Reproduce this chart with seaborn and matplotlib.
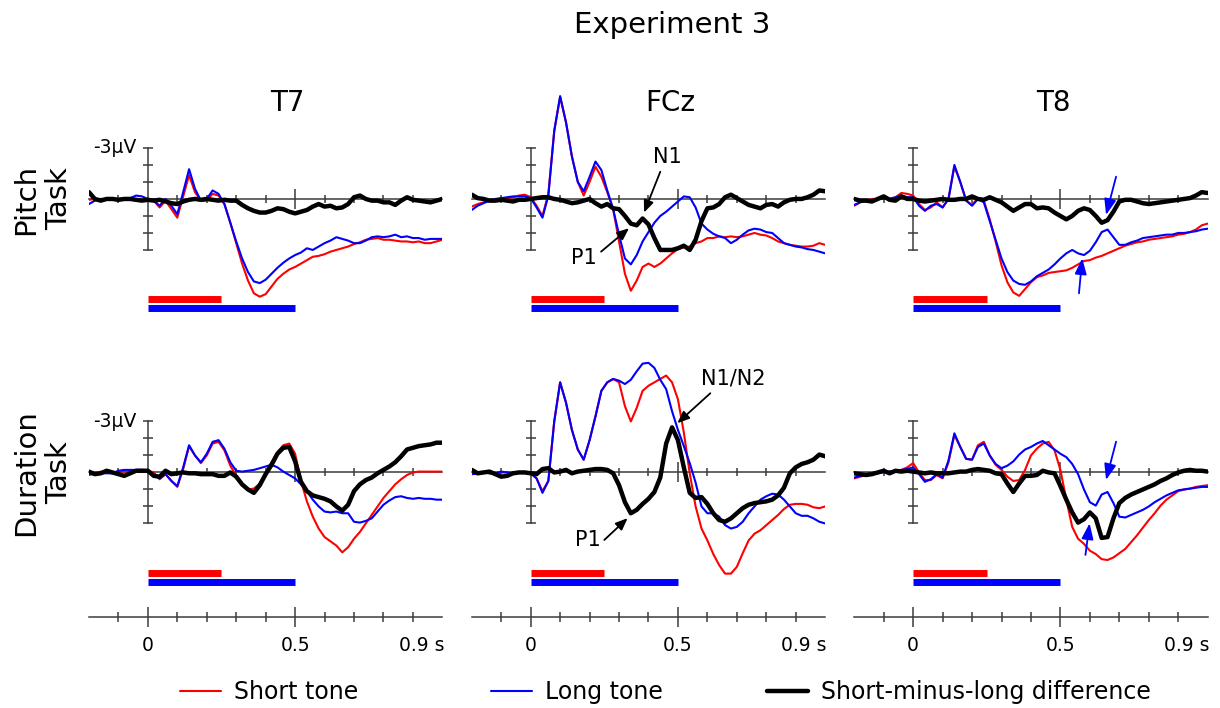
import numpy as np
import matplotlib
matplotlib.use("Agg")
import matplotlib.pyplot as plt
from matplotlib.transforms import blended_transform_factory
from matplotlib.lines import Line2D
import seaborn as sns

sns.set_theme(style="white")
plt.rcParams['font.family'] = ['DejaVu Sans']
plt.rcParams['text.color'] = 'black'

# sample times in seconds, one every 20 ms
t = np.linspace(-0.2, 1.0, 61)

# ERP amplitudes in microvolts (negative is drawn upwards)
# --- pitch task ---
t7_pitch_short = [0.05, 0.0, 0.0, 0.0, 0.0, 0.0, 0.0, 0.0, 0.0, 0.05,
                  0.05, 0.1, 0.5, 0.1, 0.6, 1.1, -0.15, -1.4, -0.4, 0.1, 0.1, -0.3, -0.2, 0.3, 1.4, 2.6, 3.8,
                  4.8, 5.55, 5.75, 5.6, 5.15, 4.7, 4.4, 4.15, 4.0, 3.8, 3.6, 3.4, 3.35, 3.25, 3.1, 3.0, 2.9,
                  2.8, 2.65, 2.55, 2.4, 2.35, 2.3, 2.4, 2.4, 2.45, 2.5, 2.5, 2.55, 2.5, 2.6, 2.6, 2.5, 2.4]
t7_pitch_long = [0.3, 0.1, 0.0, 0.0, 0.0, 0.0, 0.0, -0.05, -0.2, -0.15,
                 0.0, 0.1, 0.4, 0.0, 0.4, 0.9, -0.4, -1.75, -0.6, 0.1, 0.0, -0.5, -0.3, 0.3, 1.4, 2.5, 3.5,
                 4.3, 4.85, 4.95, 4.75, 4.4, 4.05, 3.75, 3.5, 3.3, 3.15, 2.9, 3.0, 2.8, 2.6, 2.45, 2.25, 2.35,
                 2.45, 2.6, 2.6, 2.45, 2.25, 2.2, 2.25, 2.2, 2.1, 2.25, 2.2, 2.3, 2.3, 2.4, 2.35, 2.35, 2.35]
t7_pitch_diff = [-0.4, 0.0, 0.1, 0.0, 0.0, 0.05, 0.0, 0.0, 0.05, 0.1,
                 0.05, 0.1, 0.05, 0.15, 0.25, 0.3, 0.15, 0.05, 0.0, 0.05, 0.0, 0.05, 0.1, 0.05, 0.1, 0.1, 0.35,
                 0.55, 0.7, 0.8, 0.8, 0.7, 0.55, 0.6, 0.75, 0.85, 0.75, 0.65, 0.45, 0.3, 0.45, 0.4, 0.55, 0.5,
                 0.3, -0.1, -0.2, 0.0, 0.1, 0.1, 0.2, 0.2, 0.35, 0.1, -0.1, 0.05, 0.1, 0.15, 0.2, 0.1, 0.0]

fcz_pitch_short = [0.45, 0.3, 0.2, 0.1, 0.05, 0.0, -0.05, -0.1, -0.2, -0.25,
                   -0.1, 0.4, 1.0, -0.3, -4.0, -6.0, -4.5, -2.5, -1.0, -0.2, -1.0, -1.9, -1.3, -0.4, 0.6, 2.5, 4.4,
                   5.4, 4.8, 4.0, 3.8, 4.0, 3.8, 3.5, 3.2, 2.95, 2.85, 2.8, 2.6, 2.5, 2.3, 2.3, 2.2, 2.25,
                   2.2, 2.25, 2.2, 2.1, 2.0, 2.1, 2.15, 2.3, 2.5, 2.6, 2.7, 2.75, 2.8, 2.8, 2.75, 2.6, 2.7]
fcz_pitch_long = [0.65, 0.4, 0.25, 0.1, 0.0, -0.05, -0.1, -0.15, -0.15, -0.15,
                  -0.05, 0.5, 1.1, -0.2, -4.0, -6.05, -4.5, -2.5, -1.0, -0.45, -1.3, -2.2, -1.7, -0.5, 0.6, 2.1, 3.5,
                  3.85, 3.3, 2.5, 1.95, 1.4, 1.0, 0.75, 0.45, 0.15, -0.15, -0.1, 0.5, 1.45, 1.8, 2.05, 2.2, 2.3,
                  2.6, 2.4, 2.1, 1.85, 1.75, 1.8, 1.95, 2.0, 2.3, 2.6, 2.7, 2.8, 2.85, 2.95, 3.0, 3.1, 3.2]
fcz_pitch_diff = [-0.25, -0.05, 0.0, 0.1, 0.1, 0.05, 0.1, 0.15, 0.05, 0.05,
                  0.0, -0.05, -0.1, -0.1, 0.0, 0.05, 0.15, 0.25, 0.2, 0.1, 0.0, 0.25, 0.45, 0.3, 0.55, 0.6, 1.0,
                  1.45, 1.55, 1.15, 1.5, 2.3, 3.0, 3.0, 3.0, 2.9, 2.75, 3.0, 2.4, 1.3, 0.55, 0.5, 0.3, -0.1,
                  -0.25, -0.05, 0.15, 0.35, 0.45, 0.55, 0.35, 0.3, 0.45, 0.2, 0.05, 0.0, 0.0, -0.1, -0.25, -0.5, -0.45]

t8_pitch_short = [0.4, 0.2, 0.1, 0.0, 0.0, 0.0, 0.0, -0.1, -0.35, -0.3,
                  -0.2, 0.3, 0.65, 0.5, 0.2, 0.5, 0.0, -1.9, -1.0, 0.1, 0.35, -0.05, 0.1, 1.2, 2.5, 3.9, 4.9,
                  5.5, 5.7, 5.3, 4.9, 4.6, 4.5, 4.35, 4.3, 4.25, 4.2, 4.05, 3.85, 3.65, 3.6, 3.45, 3.35, 3.2,
                  3.05, 2.9, 2.75, 2.65, 2.55, 2.5, 2.4, 2.35, 2.3, 2.25, 2.2, 2.1, 2.05, 1.95, 1.8, 1.55, 1.45]
t8_pitch_long = [0.35, 0.2, 0.1, 0.05, 0.0, 0.0, 0.0, -0.1, -0.2, -0.1,
                 -0.1, 0.4, 0.7, 0.4, 0.3, 0.5, 0.0, -2.0, -1.0, 0.1, 0.4, 0.0, 0.2, 1.3, 2.4, 3.5, 4.3,
                 4.8, 5.0, 5.05, 4.85, 4.55, 4.35, 4.15, 3.85, 3.5, 3.2, 3.0, 3.2, 3.3, 3.05, 2.55, 1.95, 1.8,
                 2.25, 2.7, 2.7, 2.55, 2.45, 2.3, 2.25, 2.2, 2.15, 2.1, 2.1, 2.0, 2.0, 1.95, 1.9, 1.8, 1.75]
t8_pitch_diff = [0.0, 0.1, 0.1, 0.15, 0.0, -0.15, 0.05, 0.1, -0.15, 0.0,
                 0.0, 0.1, 0.15, 0.1, 0.05, 0.0, 0.05, 0.05, 0.0, 0.0, -0.15, 0.0, 0.05, -0.1, 0.05, 0.2, 0.45,
                 0.7, 0.5, 0.3, 0.3, 0.55, 0.5, 0.55, 0.8, 1.0, 1.2, 1.0, 0.7, 0.55, 0.65, 1.0, 1.4, 1.25,
                 0.75, 0.15, 0.05, 0.05, 0.15, 0.25, 0.3, 0.25, 0.2, 0.15, 0.1, 0.05, 0.0, -0.05, -0.2, -0.4, -0.35]

# --- duration task ---
t7_dur_short = [0.15, 0.05, -0.05, 0.0, 0.0, -0.05, -0.05, -0.1, -0.1, -0.15,
                -0.1, 0.0, 0.4, 0.1, 0.5, 0.85, -0.2, -1.55, -1.0, -0.55, -1.0, -1.7, -1.8, -1.3, -0.4, 0.2, 0.7,
                1.0, 0.95, 0.65, 0.0, -0.6, -1.2, -1.6, -1.7, -1.1, 0.5, 1.7, 2.6, 3.3, 3.8, 4.05, 4.3, 4.7,
                4.4, 3.9, 3.5, 3.0, 2.5, 2.0, 1.5, 1.1, 0.7, 0.4, 0.15, 0.0, -0.05, -0.05, -0.05, -0.05, -0.05]
t7_dur_long = [0.1, 0.1, 0.05, 0.05, 0.05, -0.1, -0.15, -0.15, -0.15, -0.15,
               -0.1, 0.15, 0.35, 0.1, 0.5, 0.8, -0.3, -1.6, -1.0, -0.6, -1.1, -1.8, -1.9, -1.4, -0.6, -0.1, -0.05,
               -0.1, -0.15, -0.25, -0.35, -0.45, -0.3, -0.05, 0.15, 0.35, 0.7, 1.1, 1.6, 2.0, 2.3, 2.35, 2.3, 2.4,
               2.4, 2.9, 2.95, 2.85, 2.7, 2.3, 1.9, 1.65, 1.45, 1.4, 1.5, 1.55, 1.5, 1.55, 1.55, 1.6, 1.6]
t7_dur_diff = [-0.05, 0.1, 0.05, -0.1, 0.0, 0.1, 0.2, 0.05, -0.1, -0.1,
               -0.1, 0.2, 0.25, -0.1, 0.1, 0.05, 0.0, 0.05, 0.05, 0.1, 0.1, 0.1, 0.2, 0.2, 0.0, 0.25, 0.7,
               1.0, 1.2, 0.75, 0.1, -0.45, -1.1, -1.45, -1.5, -0.65, 0.55, 1.1, 1.35, 1.45, 1.55, 1.7, 2.0, 2.25,
               1.9, 1.1, 0.7, 0.45, 0.3, 0.05, -0.15, -0.35, -0.6, -0.95, -1.35, -1.45, -1.55, -1.6, -1.65, -1.75, -1.75]

fcz_dur_short = [0.1, 0.05, 0.0, 0.05, 0.1, 0.0, 0.0, 0.05, 0.0, 0.0,
                 0.05, 0.35, 1.1, 0.5, -3.0, -5.3, -4.1, -2.5, -1.35, -0.75, -1.9, -3.3, -4.8, -5.3, -5.5, -5.3, -3.9,
                 -3.0, -3.8, -4.8, -5.1, -5.3, -5.5, -5.7, -5.3, -4.3, -2.35, 0.05, 2.0, 3.3, 4.0, 4.8, 5.45, 5.95,
                 5.95, 5.55, 4.75, 4.0, 3.6, 3.4, 3.1, 2.8, 2.5, 2.15, 1.9, 1.85, 1.85, 1.9, 2.05, 2.1, 2.0]
fcz_dur_long = [0.1, 0.05, 0.0, 0.05, 0.05, -0.05, 0.0, 0.05, 0.0, 0.0,
                0.05, 0.35, 1.2, 0.5, -3.0, -5.3, -4.1, -2.5, -1.35, -0.75, -1.9, -3.3, -4.8, -5.3, -5.5, -5.4, -5.2,
                -5.45, -5.95, -6.4, -6.45, -6.15, -5.45, -4.9, -3.6, -2.5, -1.55, -0.55, 0.6, 2.0, 2.4, 2.4, 2.6, 3.1,
                3.3, 3.2, 2.9, 2.4, 2.0, 1.6, 1.4, 1.25, 1.3, 1.6, 2.0, 2.4, 2.55, 2.55, 2.7, 2.9, 3.0]
fcz_dur_diff = [-0.15, 0.05, 0.0, -0.05, 0.1, 0.25, 0.2, 0.05, 0.0, 0.0,
                0.05, 0.1, -0.2, -0.25, 0.0, -0.05, -0.15, 0.05, -0.05, -0.1, -0.15, -0.2, -0.2, -0.15, 0.05, 0.75, 1.75,
                2.4, 2.2, 1.85, 1.55, 1.15, 0.3, -1.7, -2.65, -1.9, -0.3, 1.2, 1.5, 1.45, 1.85, 2.4, 2.8, 2.9,
                2.7, 2.4, 2.1, 1.9, 1.8, 1.75, 1.7, 1.6, 1.35, 0.9, 0.05, -0.3, -0.5, -0.6, -0.75, -1.05, -0.95]

t8_dur_short = [0.35, 0.25, 0.15, 0.1, 0.05, 0.0, -0.05, -0.1, -0.15, -0.3,
                -0.55, 0.0, 0.45, 0.45, 0.15, 0.35, -0.6, -2.2, -1.5, -0.8, -0.75, -1.6, -1.8, -1.0, -0.45, -0.15, 0.25,
                0.5, 0.45, -0.15, -1.0, -1.4, -1.7, -1.8, -1.3, -0.15, 1.6, 3.2, 3.9, 4.2, 4.6, 4.8, 5.1, 5.15,
                5.0, 4.75, 4.5, 4.1, 3.7, 3.25, 2.8, 2.4, 1.95, 1.6, 1.35, 1.1, 1.0, 0.95, 0.85, 0.8, 0.75]
t8_dur_long = [0.3, 0.2, 0.1, 0.05, 0.0, -0.05, -0.05, -0.1, -0.15, -0.2,
               -0.3, 0.1, 0.55, 0.4, 0.1, 0.3, -0.7, -2.3, -1.5, -0.8, -0.75, -1.5, -1.7, -1.0, -0.5, -0.25, -0.4,
               -0.65, -1.05, -1.35, -1.5, -1.7, -1.85, -1.6, -1.35, -1.1, -0.9, -0.5, 0.1, 1.0, 1.75, 1.95, 1.3, 1.15,
               1.8, 2.6, 2.65, 2.5, 2.35, 2.2, 2.0, 1.75, 1.55, 1.35, 1.2, 1.05, 1.0, 0.95, 0.9, 0.85, 0.85]
t8_dur_diff = [0.05, 0.1, 0.15, 0.1, 0.0, -0.1, 0.05, -0.1, -0.05, -0.1,
               -0.05, 0.0, 0.05, 0.0, 0.05, 0.05, 0.05, 0.0, -0.05, -0.05, -0.15, -0.2, -0.15, -0.1, 0.05, 0.1, 0.65,
               1.15, 0.65, 0.2, 0.2, 0.15, -0.1, 0.0, 0.05, 0.8, 1.6, 2.35, 2.95, 2.75, 2.35, 2.7, 3.85, 3.8,
               2.7, 1.8, 1.5, 1.3, 1.15, 1.0, 0.85, 0.7, 0.5, 0.35, 0.15, 0.0, -0.1, -0.15, -0.1, -0.1, -0.05]

channels = ['T7', 'FCz', 'T8']
tasks = ['Pitch\nTask', 'Duration\nTask']
tone_dur = [0.25, 0.5]   # short / long tone, s

curves = [
    [(t7_pitch_short, t7_pitch_long, t7_pitch_diff),
     (fcz_pitch_short, fcz_pitch_long, fcz_pitch_diff),
     (t8_pitch_short, t8_pitch_long, t8_pitch_diff)],
    [(t7_dur_short, t7_dur_long, t7_dur_diff),
     (fcz_dur_short, fcz_dur_long, fcz_dur_diff),
     (t8_dur_short, t8_dur_long, t8_dur_diff)],
]

RED, BLUE, BLK, AXC = '#ff0000', '#0000ff', '#000000', '#3c3c3c'

fig = plt.figure(figsize=(12.2, 7.08), dpi=100)

col_left = [0.0729, 0.3867, 0.7002]
row_bottom = [0.5461, 0.1598]
row_mid = [1 - 199 / 708, 1 - 472.5 / 708]
W, H = 0.2897, 0.3530

line_kw = dict(estimator=None, solid_joinstyle='round', solid_capstyle='round')

axes = {}
for r in range(2):
    for c in range(3):
        ax = fig.add_axes([col_left[c], row_bottom[r], W, H])
        ax.patch.set_visible(False)
        short, long_, diff = curves[r][c]
        sns.lineplot(x=t, y=short, color=RED, lw=1.5, ax=ax, zorder=3, **line_kw)
        sns.lineplot(x=t, y=long_, color=BLUE, lw=1.5, ax=ax, zorder=4, **line_kw)
        sns.lineplot(x=t, y=diff, color=BLK, lw=3.2, ax=ax, zorder=5, **line_kw)

        # stimulus duration bars
        ax.plot([0, tone_dur[0]], [5.9, 5.9], color=RED, lw=5, solid_capstyle='butt')
        ax.plot([0, tone_dur[1]], [6.42, 6.42], color=BLUE, lw=5, solid_capstyle='butt')

        ax.set_xlim(-0.2, 1.0)
        ax.set_ylim(7.2, -7.5)
        ax.set_xlabel('')
        ax.set_ylabel('')
        for s in ['top', 'right']:
            ax.spines[s].set_visible(False)
        for s in ['left', 'bottom']:
            ax.spines[s].set_position(('data', 0))
            ax.spines[s].set_color(AXC)
            ax.spines[s].set_linewidth(1.1)
        ax.spines['left'].set_bounds(-3, 3)
        ax.spines['bottom'].set_bounds(-0.2, 1.0)
        ax.set_yticks(range(-3, 4))
        ax.set_xticks([0.5])
        ax.set_xticks([-0.1, 0.1, 0.2, 0.3, 0.4, 0.6, 0.7, 0.8, 0.9], minor=True)
        ax.tick_params(axis='y', left=True, direction='inout', length=6.8, width=1.1,
                       color=AXC, labelleft=False)
        ax.tick_params(axis='x', which='major', bottom=True, direction='inout', length=14,
                       width=1.1, color=AXC, labelbottom=False)
        ax.tick_params(axis='x', which='minor', bottom=True, direction='inout', length=6,
                       width=1.1, color=AXC)
        ax.grid(False)

        if c == 0:
            ax.annotate('-3µV', xy=(0, -3), xytext=(-8, 0), textcoords='offset points',
                        ha='right', va='center', fontsize=13.5)
        if r == 0:
            ax.text(0.475, 1 - 103 / 708, channels[c], fontsize=20, ha='center', va='center',
                    transform=blended_transform_factory(ax.transData, fig.transFigure))
        axes[(r, c)] = ax

# row labels
for r in range(2):
    fig.text(42.5 / 1220, row_mid[r], tasks[r], rotation=90, ha='center', va='center',
             fontsize=21, multialignment='center')

fig.text(672 / 1220, 1 - 25 / 708, 'Experiment 3', ha='center', va='center', fontsize=21)

# component labels
def tag(ax, label, text_xy, tail, tip, color=BLK, size=15, head='0.6', hw='0.25'):
    if label:
        ax.text(text_xy[0], text_xy[1], label, fontsize=size, ha='center', va='center', zorder=7)
    ax.annotate('', xy=tip, xytext=tail, zorder=7,
                arrowprops=dict(arrowstyle='-|>,head_length=%s,head_width=%s' % (head, hw),
                                color=color, lw=1.3, mutation_scale=12,
                                shrinkA=0, shrinkB=0))

ax = axes[(0, 1)]
tag(ax, 'N1', (0.463, -2.47), (0.44, -1.6), (0.385, 0.8))
tag(ax, 'P1', (0.179, 3.47), (0.239, 3.1), (0.334, 1.72))
ax = axes[(1, 1)]
tag(ax, 'N1/N2', (0.689, -5.5), (0.61, -4.66), (0.498, -2.9))
tag(ax, 'P1', (0.193, 3.97), (0.25, 3.97), (0.329, 2.69))
ax = axes[(0, 2)]
tag(ax, '', None, (0.689, -1.31), (0.655, 0.94), color=BLUE, head='0.8', hw='0.3')
tag(ax, '', None, (0.563, 5.55), (0.574, 3.49), color=BLUE, head='0.8', hw='0.3')
ax = axes[(1, 2)]
tag(ax, '', None, (0.689, -1.81), (0.655, 0.44), color=BLUE, head='0.8', hw='0.3')
tag(ax, '', None, (0.585, 4.85), (0.599, 2.99), color=BLUE, head='0.8', hw='0.3')

# shared time axes at the bottom
for c in range(3):
    axb = fig.add_axes([col_left[c], 1 - 617 / 708, W, 0.0001])
    axb.patch.set_visible(False)
    axb.set_xlim(-0.2, 1.0)
    for s in ['top', 'right', 'left']:
        axb.spines[s].set_visible(False)
    axb.spines['bottom'].set_color(AXC)
    axb.spines['bottom'].set_linewidth(1.1)
    axb.set_yticks([])
    axb.set_xticks([0, 0.5])
    axb.set_xticks([-0.1, 0.1, 0.2, 0.3, 0.4, 0.6, 0.7, 0.8, 0.9], minor=True)
    axb.tick_params(axis='x', which='major', bottom=True, direction='inout', length=14.4,
                    width=1.1, color=AXC, labelbottom=False)
    axb.tick_params(axis='x', which='minor', bottom=True, direction='inout', length=7.2,
                    width=1.1, color=AXC)
    for x, lab in [(0, '0'), (0.5, '0.5')]:
        axb.annotate(lab, xy=(x, 0), xytext=(0, -20.7), textcoords='offset points',
                     ha='center', va='center', fontsize=13.5)
    axb.annotate('0.9 s', xy=(0.9, 0), xytext=(-10.3, -20.7), textcoords='offset points',
                 ha='left', va='center', fontsize=13.5)

# legend, one entry at a time to keep the uneven spacing
entries = [('Short tone', RED, 1.5, 180), ('Long tone', BLUE, 1.5, 491),
           ('Short-minus-long difference', BLK, 3.2, 767)]
for lab, col, lw, x0 in entries:
    leg = fig.legend(handles=[Line2D([], [], color=col, lw=lw)], labels=[lab],
                     loc='center left', bbox_to_anchor=(x0 / 1220, 1 - 692 / 708),
                     frameon=False, fontsize=17, handlelength=1.74, handletextpad=0.55,
                     borderpad=0, borderaxespad=0)
    for txt in leg.get_texts():
        txt.set_color('black')

fig.savefig('out.png', dpi=100)
